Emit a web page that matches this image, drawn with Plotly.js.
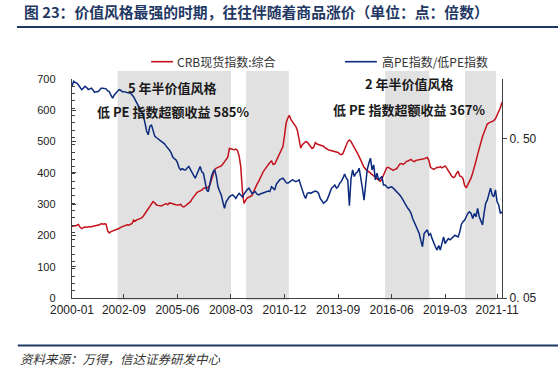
<!DOCTYPE html>
<html>
<head>
<meta charset="utf-8">
<script src="https://cdn.plot.ly/plotly-3.0.1.min.js"></script>
<style>html,body{margin:0;padding:0;background:#fff;}#chart{width:558px;height:371px;}</style>
</head>
<body>
<div id="chart"></div>
<script>
// Monthly series starting 2000-01
const startYear = 2000;
const crbSpot = [
  228, 231, 230, 233, 235, 226, 222, 225, 227, 226, 228, 227,
  228, 229, 230, 231, 232, 234, 238, 236, 237, 236, 214, 208,
  212, 214, 215, 216, 219, 222, 226, 228, 230, 232, 234, 233,
  236, 238, 249, 246, 250, 252, 254, 256, 262, 270, 278, 286,
  296, 302, 308, 304, 298, 296, 295, 294, 297, 300, 302, 298,
  304, 303, 301, 300, 298, 297, 297, 300, 293, 291, 295, 298,
  302, 308, 316, 324, 332, 337, 340, 342, 345, 350, 352, 351,
  354, 362, 376, 395, 411, 415, 418, 420, 422, 428, 435, 441,
  450, 478, 476, 475, 474, 476, 472, 454, 420, 344, 302, 312,
  320, 322, 326, 328, 340, 355, 363, 372, 384, 392, 405, 412,
  420, 427, 433, 438, 427, 428, 440, 452, 462, 475, 484, 520,
  560, 575, 584, 570, 562, 554, 548, 535, 505, 479, 490, 495,
  500, 498, 492, 485, 478, 482, 497, 492, 490, 488, 486, 485,
  480, 476, 474, 472, 471, 470, 468, 466, 465, 460, 458, 462,
  474, 488, 500, 505, 500, 490, 482, 474, 462, 452, 440, 425,
  418, 412, 408, 405, 400, 396, 390, 386, 384, 378, 373, 380,
  395, 405, 416, 418, 414, 410, 408, 411, 413, 420, 428, 430,
  427, 430, 436, 438, 440, 443, 438, 436, 440, 441, 440, 443,
  444, 445, 447, 449, 440, 418, 414, 411, 414, 418, 417, 420,
  416, 418, 422, 415, 406, 395, 390, 385, 388, 398, 405, 390,
  388, 382, 360, 352, 362, 372, 384, 400, 417, 438, 459, 480,
  502, 516, 529, 542, 556, 560, 562, 565, 567, 573, 584, 594,
  608, 626
];
const highLowPE = [
  1.07, 1.15, 1.13, 1.12, 1.09, 1.05, 1.02, 1.04, 1.07, 1.05, 1.02, 1.03,
  1.04, 1.01, 0.98, 0.99, 0.99, 1.01, 1.04, 1.04, 1.04, 1.03, 1.00, 0.99,
  0.94, 0.90, 0.94, 0.97, 1.00, 1.02, 1.01, 0.99, 0.99, 0.98, 0.98, 0.97,
  0.97, 0.95, 0.92, 0.88, 0.84, 0.80, 0.77, 0.74, 0.70, 0.63, 0.56, 0.53,
  0.60, 0.61, 0.556, 0.52, 0.51, 0.50, 0.49, 0.48, 0.475, 0.465, 0.45, 0.44,
  0.426, 0.41, 0.387, 0.375, 0.37, 0.355, 0.33, 0.319, 0.325, 0.32, 0.319, 0.328,
  0.335, 0.32, 0.304, 0.295, 0.283, 0.30, 0.32, 0.335, 0.31, 0.304, 0.27, 0.239,
  0.233, 0.263, 0.29, 0.31, 0.32, 0.29, 0.25, 0.235, 0.222, 0.201, 0.183, 0.201,
  0.21, 0.216, 0.22, 0.222, 0.218, 0.211, 0.22, 0.227, 0.222, 0.216, 0.225, 0.233,
  0.24, 0.245, 0.235, 0.227, 0.23, 0.233, 0.225, 0.222, 0.225, 0.227, 0.23, 0.233,
  0.233, 0.235, 0.233, 0.25, 0.245, 0.239, 0.26, 0.27, 0.276, 0.28, 0.283, 0.275,
  0.265, 0.263, 0.269, 0.272, 0.276, 0.272, 0.269, 0.272, 0.276, 0.256, 0.235, 0.222,
  0.211, 0.227, 0.23, 0.227, 0.23, 0.233, 0.235, 0.233, 0.227, 0.211, 0.205, 0.197,
  0.201, 0.205, 0.216, 0.23, 0.245, 0.25, 0.256, 0.245, 0.25, 0.263, 0.27, 0.283,
  0.30, 0.283, 0.276, 0.19, 0.28, 0.319, 0.29, 0.304, 0.31, 0.327, 0.29, 0.245,
  0.206, 0.276, 0.32, 0.351, 0.378, 0.319, 0.343, 0.276, 0.304, 0.276, 0.283, 0.29,
  0.256, 0.256, 0.25, 0.245, 0.248, 0.25, 0.245, 0.239, 0.235, 0.227, 0.222, 0.215,
  0.206, 0.198, 0.187, 0.183, 0.178, 0.17, 0.158, 0.15, 0.14, 0.133, 0.127, 0.115,
  0.105, 0.127, 0.13, 0.134, 0.124, 0.127, 0.118, 0.11, 0.105, 0.10, 0.107, 0.10,
  0.11, 0.121, 0.11, 0.115, 0.118, 0.116, 0.118, 0.121, 0.124, 0.122, 0.121, 0.13,
  0.145, 0.151, 0.154, 0.162, 0.17, 0.174, 0.17, 0.158, 0.17, 0.162, 0.183, 0.162,
  0.151, 0.144, 0.17, 0.197, 0.206, 0.227, 0.245, 0.222, 0.216, 0.239, 0.201, 0.192,
  0.17, 0.174
];
const xTickDates = ['2000-01-01','2002-09-01','2005-06-01','2008-03-01','2010-12-01','2013-09-01','2016-06-01','2019-03-01','2021-11-01'];
const xTickLabels = ['2000-01','2002-09','2005-06','2008-03','2010-12','2013-09','2016-06','2019-03','2021-11'];
const valuePeriods = [
  ['2002-05-05','2008-03-01'],
  ['2008-12-10','2011-02-20'],
  ['2016-02-01','2018-05-10'],
  ['2020-03-10','2021-10-12']
];
const seriesNames = ['CRB现货指数:综合', '高PE指数/低PE指数'];
const periodNotes = [
  ['5 年半价值风格', '低 PE 指数超额收益 585%'],
  ['2 年半价值风格', '低 PE 指数超额收益 367%']
];
const titleText = '图 23：价值风格最强的时期，往往伴随着商品涨价（单位：点：倍数）';
const sourceText = '资料来源：万得，信达证券研发中心';

const dates = crbSpot.map((_, i) => {
  const y = startYear + Math.floor(i / 12);
  const m = (i % 12) + 1;
  return y + '-' + String(m).padStart(2, '0') + '-01';
});

const RED = '#c3121c', BLUE = '#0b2a7e', NAVY = '#1f3864';
const CJK = '"Noto Sans CJK SC", "Noto Sans", sans-serif';

const traces = [
  { x: dates, y: crbSpot, type: 'scatter', mode: 'lines', name: seriesNames[0],
    line: { color: RED, width: 1.5 }, yaxis: 'y' },
  { x: dates, y: highLowPE, type: 'scatter', mode: 'lines', name: seriesNames[1],
    line: { color: BLUE, width: 1.5 }, yaxis: 'y2' }
];

const shapes = valuePeriods.map(p => ({
  type: 'rect', xref: 'x', yref: 'paper', x0: p[0], x1: p[1], y0: -0.01, y1: 1.036,
  fillcolor: '#e1e1e1', line: { width: 0 }, layer: 'below'
}));
// legend samples
shapes.push({ type: 'line', xref: 'paper', yref: 'paper', x0: 0.184, x1: 0.235, y0: 1.079, y1: 1.079, line: { color: RED, width: 1.6 } });
shapes.push({ type: 'line', xref: 'paper', yref: 'paper', x0: 0.635, x1: 0.709, y0: 1.079, y1: 1.079, line: { color: BLUE, width: 1.6 } });
// header / footer rules
shapes.push({ type: 'line', xref: 'paper', yref: 'paper', x0: -0.128, x1: 1.131, y0: 1.237, y1: 1.237, line: { color: NAVY, width: 2 } });
shapes.push({ type: 'line', xref: 'paper', yref: 'paper', x0: -0.126, x1: 1.131, y0: -0.217, y1: -0.217, line: { color: NAVY, width: 2 } });

const annFont = { family: CJK, size: 13, color: '#1a1a1a', weight: 'bold' };
const annotations = [
  { xref: 'paper', yref: 'paper', x: -0.116, y: 1.308, xanchor: 'left', yanchor: 'middle', showarrow: false,
    text: '<b>' + titleText + '</b>', font: { family: CJK, size: 14.8, color: NAVY } },
  { xref: 'paper', yref: 'paper', x: -0.125, y: -0.276, xanchor: 'left', yanchor: 'middle', showarrow: false,
    text: '<i>' + sourceText + '</i>', font: { family: CJK, size: 12.5, color: '#333' } },
  { xref: 'paper', yref: 'paper', x: 0.239, y: 1.079, xanchor: 'left', yanchor: 'middle', showarrow: false,
    text: seriesNames[0], font: { family: CJK, size: 12, color: '#333' } },
  { xref: 'paper', yref: 'paper', x: 0.716, y: 1.079, xanchor: 'left', yanchor: 'middle', showarrow: false,
    text: seriesNames[1], font: { family: CJK, size: 12, color: '#333' } },
  { xref: 'paper', yref: 'paper', x: 0.234, y: 0.960, xanchor: 'center', yanchor: 'middle', showarrow: false,
    text: '<b>' + periodNotes[0][0] + '</b>', font: annFont },
  { xref: 'paper', yref: 'paper', x: 0.235, y: 0.850, xanchor: 'center', yanchor: 'middle', showarrow: false,
    text: '<b>' + periodNotes[0][1] + '</b>', font: annFont },
  { xref: 'paper', yref: 'paper', x: 0.784, y: 0.978, xanchor: 'center', yanchor: 'middle', showarrow: false,
    text: '<b>' + periodNotes[1][0] + '</b>', font: annFont },
  { xref: 'paper', yref: 'paper', x: 0.784, y: 0.863, xanchor: 'center', yanchor: 'middle', showarrow: false,
    text: '<b>' + periodNotes[1][1] + '</b>', font: annFont }
];

const axisColor = '#404040';
const layout = {
  width: 558, height: 371,
  margin: { l: 72, r: 56, t: 79.3, b: 73.3, pad: 0 },
  paper_bgcolor: '#fff', plot_bgcolor: '#fff',
  showlegend: false,
  font: { family: '"Liberation Sans", Arial, sans-serif', color: '#222' },
  xaxis: {
    type: 'date', range: ['2000-01-01', '2022-02-01'],
    tickvals: xTickDates, ticktext: xTickLabels,
    ticks: 'inside', ticklen: 4, tickcolor: axisColor, tickwidth: 1,
    showline: true, linecolor: axisColor, linewidth: 1.2,
    showgrid: false, zeroline: false,
    tickfont: { size: 12, color: '#222' }
  },
  yaxis: {
    range: [0, 700], tickvals: [0,100,200,300,400,500,600,700],
    ticks: 'inside', ticklen: 4, tickcolor: axisColor,
    minor: { ticks: 'inside', ticklen: 3, dtick: 700/30, tickcolor: axisColor, showgrid: false },
    showline: true, linecolor: axisColor, linewidth: 1.2,
    showgrid: false, zeroline: false,
    ticklabelstandoff: 13,
    tickfont: { size: 11, color: '#222' }
  },
  yaxis2: {
    type: 'log', overlaying: 'y', side: 'right', anchor: 'x',
    range: [Math.log10(0.05), Math.log10(0.05) + 1.376],
    tickvals: [0.05, 0.5], ticktext: ['0. 05', '0. 50'],
    ticks: 'outside', ticklen: 4, tickcolor: axisColor,
    showline: true, linecolor: axisColor, linewidth: 1.2,
    showgrid: false, zeroline: false,
    tickfont: { size: 12, color: '#222' }
  },
  shapes: shapes,
  annotations: annotations
};

Plotly.newPlot('chart', traces, layout, { displayModeBar: false, staticPlot: true });
</script>
</body>
</html>
